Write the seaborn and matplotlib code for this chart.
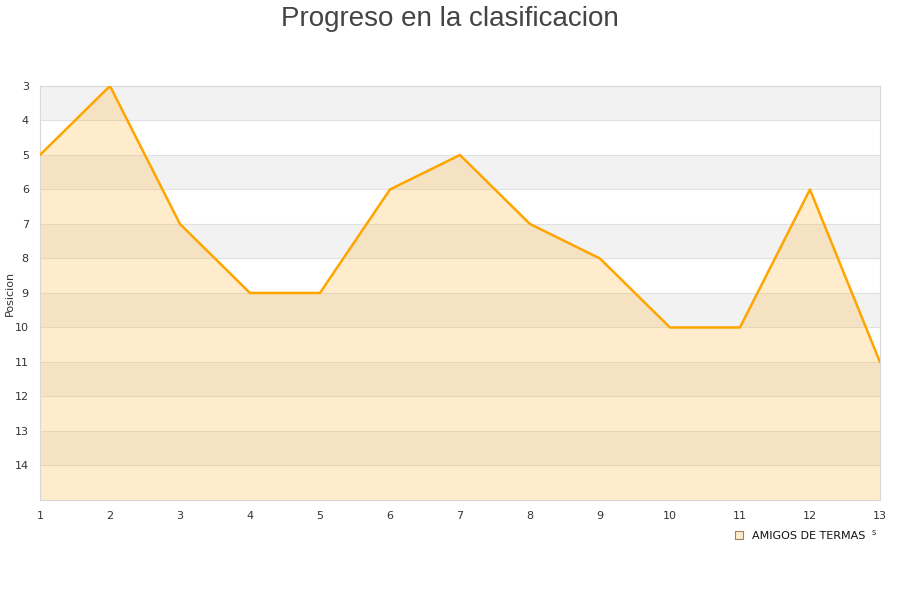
import pandas as pd
import matplotlib.pyplot as plt
import seaborn as sns
from matplotlib.patches import Patch

jornadas = list(range(1, 14))
posicion = [5, 3, 7, 9, 9, 6, 5, 7, 8, 10, 10, 6, 11]
equipo = "AMIGOS DE TERMAS"
y_ticks = list(range(3, 15))

df = pd.DataFrame({"Jornada": jornadas, "Posicion": posicion})

sns.set_style("white")
fig = plt.figure(figsize=(9, 6), dpi=100)
ax = fig.add_axes([0.0444, 0.1667, 0.9333, 0.69])

# bandas alternas
for y0 in range(3, 15, 2):
    ax.axhspan(y0, y0 + 1, color="#f2f2f2", zorder=0, lw=0)
for y in range(4, 15):
    ax.axhline(y, color="#e0e0e0", lw=0.8, zorder=1)

ax.fill_between(df["Jornada"], df["Posicion"], 15, color="#ffb126", alpha=0.23,
                lw=0, zorder=2)
sns.lineplot(data=df, x="Jornada", y="Posicion", color="#ffa500", lw=1.8, ax=ax,
             zorder=3)

ax.set_xlim(1, 13)
ax.set_ylim(15, 3)
ax.set_xticks(jornadas)
ax.set_yticks(y_ticks)
ax.tick_params(labelsize=8, colors="#333333", length=0, pad=8)
ax.set_xlabel("")
ax.set_ylabel("Posicion", fontsize=8, color="#333333")
ax.yaxis.set_label_coords(-0.03, 0.5)
for s in ax.spines.values():
    s.set_color("#d8d8d8")

fig.text(0.5, 0.99, "Progreso en la clasificacion", ha="center", va="top",
         fontsize=20, color="#444444", family="Liberation Sans")
fig.text(0.971, 0.108, "s", fontsize=6, color="#333333", ha="center")

handle = Patch(facecolor="#ffeccc", edgecolor="#a08060", lw=0.8)
fig.legend([handle], [equipo], loc="center left", bbox_to_anchor=(0.805, 0.107),
           frameon=False, fontsize=8, handlelength=0.8, handleheight=0.8,
           handletextpad=0.8, labelcolor="#111111")

plt.savefig("out.png", dpi=100)
